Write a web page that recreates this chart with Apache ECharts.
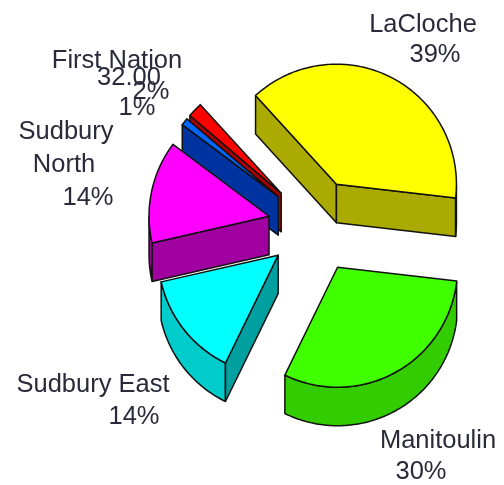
<!DOCTYPE html>
<html>
<head>
<meta charset="utf-8">
<style>
  html, body { margin: 0; padding: 0; background: #fff; }
  #chart { width: 504px; height: 485px; }
</style>
<script src="https://cdn.jsdelivr.net/npm/echarts@6/dist/echarts.min.js"></script>
</head>
<body>
<div id="chart"></div>
<script>
// drawing order is back to front, same as the slice order round the pie
const names = ["LaCloche", "First Nation", "32.00", "Sudbury North", "Sudbury East", "Manitoulin"];
const values = [38.6, 2.0, 1.0, 13.8, 14.2, 30.4];
const percents = ["39%", "2%", "1%", "14%", "14%", "30%"];

const topColors = ["#ffff00", "#ff0000", "#0066ff", "#ff00ff", "#00ffff", "#40ff00"];
const edgeColors = ["#aaaa00", "#aa0000", "#0033a0", "#a000a0", "#00a0a0", "#2ba000"];
const rimColors = ["#aaaa00", "#aa0000", "#0044cc", "#a000a0", "#00cccc", "#33cc00"];

const startAngle = -6.6;
const centerX = 315;
const centerY = 226;
const radius = 120;
const depth = 38.5;
const explode = 47;
const outline = "#111";

// one entry per line of text, labels were placed by hand in the original
const labelLines = [
  { text: names[1], x: 117, y: 61 },
  { text: names[2], x: 129, y: 78 },
  { text: percents[1], x: 151, y: 92 },
  { text: percents[2], x: 137, y: 108 },
  { text: "Sudbury", x: 66, y: 132 },
  { text: "North", x: 64, y: 165 },
  { text: percents[3], x: 88, y: 198 },
  { text: names[4], x: 93, y: 385 },
  { text: percents[4], x: 134, y: 417 },
  { text: names[0], x: 423, y: 25 },
  { text: percents[0], x: 435, y: 55 },
  { text: names[5], x: 438, y: 441 },
  { text: percents[5], x: 421, y: 472 }
];

const total = values.reduce((a, b) => a + b, 0);
const rad = (d) => (d * Math.PI) / 180;

function sliceAngles(index) {
  let from = startAngle;
  for (let i = 0; i < index; i++) from += (values[i] / total) * 360;
  return [from, from + (values[index] / total) * 360];
}

function renderSlice(params, api) {
  const i = params.dataIndex;
  const [a0, a1] = sliceAngles(i);
  const mid = rad((a0 + a1) / 2);
  const ax = centerX + explode * Math.cos(mid);
  const ay = centerY - explode * Math.sin(mid);
  const at = (d) => [ax + radius * Math.cos(rad(d)), ay - radius * Math.sin(rad(d))];
  const children = [];
  const poly = (points, fill) => children.push({
    type: "polygon",
    shape: { points },
    style: { fill, stroke: outline, lineWidth: 1.5, lineJoin: "round" }
  });
  const drop = (p) => [p[0], p[1] + depth];

  // radial walls, only the ones facing the viewer
  const wall = (d, outSign) => {
    const normalY = outSign * Math.cos(rad(d));
    if (normalY > 0) {
      const p = at(d);
      poly([[ax, ay], p, drop(p), drop([ax, ay])], edgeColors[i]);
    }
  };
  wall(a1, -1);
  wall(a0, 1);

  // outer rim, the part on the lower half of the circle
  const rim = [];
  for (let d = a0; d <= a1 + 0.001; d += 1) {
    const n = ((d % 360) + 360) % 360;
    if (n >= 180) rim.push(at(d));
  }
  if (rim.length > 1) {
    poly(rim.concat(rim.slice().reverse().map(drop)), rimColors[i]);
  }

  // top face
  const top = [[ax, ay]];
  const steps = Math.max(4, Math.ceil(a1 - a0));
  for (let s = 0; s <= steps; s++) top.push(at(a0 + ((a1 - a0) * s) / steps));
  poly(top, topColors[i]);

  return { type: "group", children };
}

const chart = echarts.init(document.getElementById("chart"));
chart.setOption({
  animation: false,
  backgroundColor: "#fff",
  series: [
    {
      type: "custom",
      coordinateSystem: "none",
      silent: true,
      renderItem: renderSlice,
      data: values.map((v, i) => ({ name: names[i], value: [v] }))
    }
  ],
  graphic: labelLines.map((l) => ({
    type: "text",
    x: l.x,
    y: l.y,
    z: 10,
    style: {
      text: l.text,
      fill: "#2a2a3a",
      font: "25.5px 'Liberation Sans', Arial, sans-serif",
      textAlign: "center",
      textVerticalAlign: "middle"
    }
  }))
});
</script>
</body>
</html>
